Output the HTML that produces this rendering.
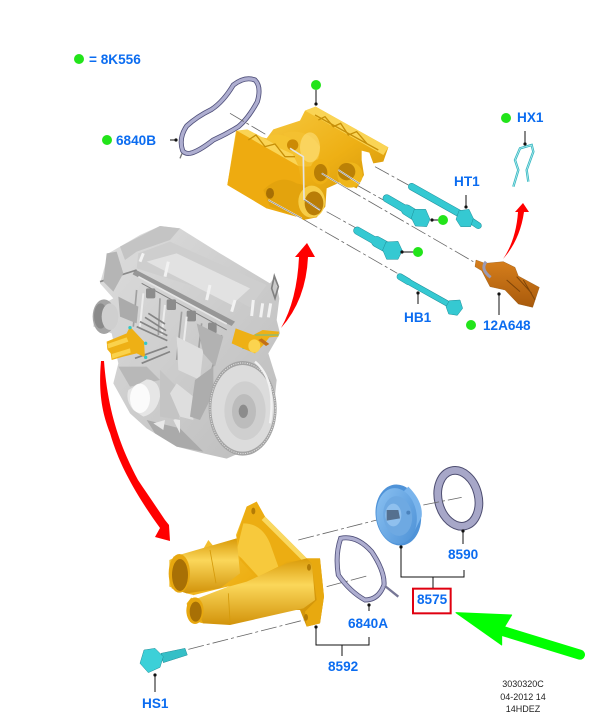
<!DOCTYPE html>
<html><head><meta charset="utf-8"><style>
html,body{margin:0;padding:0;background:#fff}
svg{display:block}
.t{font:bold 13.6px "Liberation Sans",sans-serif;fill:#0b6cf0}
.f{font:9px "Liberation Sans",sans-serif;fill:#222;text-anchor:middle}
.l{stroke:#111;stroke-width:1;fill:none}
.d{stroke:#666;stroke-width:2.4;fill:none;stroke-dasharray:48 9 9 9}
</style></head><body>
<svg width="616" height="713" viewBox="0 0 616 713" xmlns="http://www.w3.org/2000/svg">
<defs>
<linearGradient id="y" x1="0" y1="0" x2="1" y2="1"><stop offset="0" stop-color="#f8cf4c"/><stop offset=".55" stop-color="#eeb015"/><stop offset="1" stop-color="#c98c06"/></linearGradient>
<linearGradient id="yt" x1="0" y1="0" x2="0" y2="1"><stop offset="0" stop-color="#d99a08"/><stop offset=".4" stop-color="#fbd75a"/><stop offset="1" stop-color="#d2930a"/></linearGradient>
<linearGradient id="g" x1="0" y1="0" x2="1" y2="1"><stop offset="0" stop-color="#dedede"/><stop offset="1" stop-color="#bcbcbc"/></linearGradient>
<linearGradient id="o" x1="0" y1="0" x2="0" y2="1"><stop offset="0" stop-color="#d77f1c"/><stop offset="1" stop-color="#a85a0c"/></linearGradient>
<linearGradient id="b" x1="0" y1="0" x2="1" y2="1"><stop offset="0" stop-color="#8cc2f2"/><stop offset="1" stop-color="#4b90d6"/></linearGradient>
</defs>

<!-- ENGINE (zoom2 coordinates) -->
<g transform="translate(80,220) scale(.33333)">
<path d="M120,80 L180,45 L240,18 L300,25 L420,100 L570,190 L585,170 L598,235 L590,300 L600,340 L565,400 L590,480 L575,620 L500,690 L440,716 L370,700 L290,680 L200,625 L150,580 L100,490 L115,430 L95,340 L40,320 L45,265 L100,235 L60,190 L85,100 Z" fill="url(#g)"/>
<path d="M170,145 L175,100 L270,65 L560,195 L510,262 L470,240 Z" fill="#cecece"/>
<path d="M200,125 L290,100 L510,205 L455,255 Z" fill="#e2e2e2"/>
<path d="M120,80 L240,18 L300,25 L270,60 L170,95 L135,120 Z" fill="#c4c4c4"/>
<path d="M165,148 L465,305 L455,318 L158,163 Z" fill="#979797"/>
<path d="M175,170 L440,312" stroke="#e6e6e6" stroke-width="5" fill="none"/>
<path d="M185,190 L440,330" stroke="#808080" stroke-width="3" fill="none"/>
<path d="M60,185 L170,150" stroke="#8a8a8a" stroke-width="5"/>
<path d="M80,100 L110,95 L130,160 L100,215 L70,185 Z" fill="#b5b5b5"/>
<g fill="#8c8c8c"><rect x="198" y="205" width="28" height="30" rx="5"/><rect x="260" y="238" width="28" height="32" rx="5"/><rect x="320" y="272" width="28" height="32" rx="5"/><rect x="384" y="308" width="26" height="32" rx="5"/></g>
<g stroke="#f2f2f2" stroke-width="9" fill="none"><path d="M190,100 L180,125"/><path d="M265,125 L255,170"/><path d="M390,195 L380,240"/><path d="M465,240 L455,275"/><path d="M520,240 L515,288"/><path d="M548,250 L542,292"/><path d="M572,250 L565,292"/></g>
<path d="M575,205 L583,168 L595,200 L585,235 Z" fill="none" stroke="#808080" stroke-width="5"/>
<path d="M170,210 L160,320 M240,235 L235,345 M305,275 L290,420 M365,310 L350,440 M425,345 L395,450" stroke="#a0a0a0" stroke-width="5" fill="none"/>
<path d="M190,220 L180,320 M255,255 L245,345 M320,290 L310,380" stroke="#ececec" stroke-width="6" fill="none"/>
<path d="M115,230 L175,260 L170,310 L120,290 Z" fill="#ababab"/>
<ellipse cx="72" cy="290" rx="34" ry="52" fill="#a4a4a4"/><ellipse cx="62" cy="288" rx="20" ry="38" fill="#8a8a8a"/><ellipse cx="90" cy="290" rx="25" ry="40" fill="#cfcfcf"/>
<g stroke="#858585" stroke-width="5"><path d="M170,320 L262,362"/><path d="M180,305 L262,347"/><path d="M195,292 L258,332"/><path d="M205,280 L255,312"/><path d="M165,415 L262,380"/><path d="M185,430 L270,395"/></g>
<path d="M290,350 L370,390 L360,480 L295,450 Z" fill="#dedede"/>
<path d="M350,310 L430,350 L405,440 L370,400 Z" fill="#b2b2b2"/>
<path d="M115,440 L200,440 L240,480 L150,500 Z" fill="#b8b8b8"/>
<path d="M145,510 L200,478 Q240,480 240,530 Q230,580 190,590 L160,570 Q135,540 145,510 Z" fill="#e6e6e6"/>
<ellipse cx="180" cy="535" rx="30" ry="44" fill="#fbfbfb"/>
<path d="M200,600 L300,625 L370,695 L290,680 L225,640 Z" fill="#aaaaaa"/>
<path d="M220,610 L255,600 L250,630 Z M280,600 L300,590 L300,640 Z" fill="#e8e8e8"/>
<path d="M240,450 L290,500 L300,600 L240,590 Z" fill="#c4c4c4"/>
<path d="M270,520 L290,490 L340,530 L340,600 L300,590 Z" fill="#dedede"/>
<path d="M345,480 L400,440 L400,520 L360,600 L330,590 Z" fill="#adadad"/>
<ellipse cx="488" cy="565" rx="102" ry="142" fill="#a4a4a4"/>
<ellipse cx="488" cy="565" rx="94" ry="130" fill="#dcdcdc"/>
<ellipse cx="488" cy="565" rx="98" ry="136" fill="none" stroke="#e8e8e8" stroke-width="3" stroke-dasharray="3 4"/>
<ellipse cx="495" cy="572" rx="62" ry="88" fill="#cfcfcf"/>
<ellipse cx="492" cy="574" rx="36" ry="52" fill="#bcbcbc"/>
<ellipse cx="490" cy="574" rx="14" ry="20" fill="#8c8c8c"/>
<path d="M525,425 Q590,480 570,610" stroke="#f2f2f2" stroke-width="7" fill="none"/>
<!-- mini thermostat housings -->
<path d="M80,365 L140,340 L150,320 L192,365 L195,412 L170,400 L130,410 L95,420 L92,400 L82,388 Z" fill="#eeb015"/>
<path d="M82,372 L140,352 L145,365 L85,385 Z" fill="#fad24c"/>
<path d="M95,402 L150,385 L152,398 L97,416 Z" fill="#fad24c"/>
<g fill="#35c7c7"><circle cx="150" cy="323" r="5"/><circle cx="197" cy="370" r="5"/><circle cx="197" cy="412" r="5"/><circle cx="491" cy="382" r="5"/></g>
<path d="M467,325 L520,345 L548,330 L597,335 L595,350 L568,352 L550,375 L525,400 L495,388 L455,370 Z" fill="#eeb015"/>
<ellipse cx="523" cy="378" rx="18" ry="20" fill="#fbd44f"/>
<path d="M545,355 L568,372 L558,378 L535,360 Z" fill="#c26f16"/>
<path d="M525,345 L597,345" stroke="#35c7c7" stroke-width="2"/>
</g>

<!-- RED ARROWS -->
<path d="M281,328 Q297,300 299,257 L295,257 L307,243 L315,257 L308,257 Q306,300 281,328 Z" fill="#f00"/>
<path d="M503,259 Q516,240 518,212 L515,212 L523,203 L529,212 L524,212 Q520,240 503,259 Z" fill="#f00"/>
<path d="M101,361 C98,395 103,415 110,433 C115,450 125,480 160,528 L155,537 L170,541 L169,525 L165,520 C155,505 146,492 138,480 C122,450 108,415 104,361 Z" fill="#f00"/>

<!-- UPPER GROUP (zoom1 coordinates) -->
<g transform="translate(170,60) scale(.33333)">
<path d="M38,272 Q25,235 50,198 Q80,170 125,148 Q160,125 190,75 Q225,48 255,60 Q275,80 262,125 Q235,175 205,200 Q170,222 130,240 Q85,275 60,280 Q45,282 38,272 Z" fill="none" stroke="#50507a" stroke-width="15"/>
<path d="M38,272 Q25,235 50,198 Q80,170 125,148 Q160,125 190,75 Q225,48 255,60 Q275,80 262,125 Q235,175 205,200 Q170,222 130,240 Q85,275 60,280 Q45,282 38,272 Z" fill="none" stroke="#aeaed0" stroke-width="10"/>
<path d="M36,280 L30,295" stroke="#777" stroke-width="4"/>
<path class="d" d="M180,160 L290,225"/>
<path class="d" d="M615,320 L715,375"/>
<path class="d" d="M560,375 L640,420"/>
<path class="d" d="M470,455 L560,505"/>
<path class="d" d="M530,385 L910,605"/>
<path class="d" d="M400,478 L682,640"/>
<!-- housing -->
<path d="M405,152 L437,140 L655,262 L640,305 L610,310 L598,278 L575,272 L575,300 L582,345 L560,385 L515,365 L470,385 L466,440 L440,472 L400,480 L360,450 L290,445 L172,375 L198,212 L290,235 L310,208 L390,182 Z" fill="url(#y)"/>
<path d="M200,212 L232,208 L400,298 L385,318 Z" fill="#fad455"/>
<path d="M405,152 L437,140 L655,262 L640,285 Z" fill="#fad455"/>
<path d="M200,212 L385,318 L400,395 L378,470 L290,445 L172,375 Z" fill="#eeab10"/>
<path d="M340,220 Q410,200 450,260 Q450,320 410,320 L385,318 Z" fill="#f4c030"/>
<ellipse cx="420" cy="262" rx="30" ry="45" fill="#ffe78c" opacity=".5"/>
<path d="M290,235 Q320,210 370,240 L385,290 L330,265 Z" fill="#f5c330"/>
<ellipse cx="368" cy="255" rx="17" ry="17" fill="#cc8a05"/>
<ellipse cx="450" cy="335" rx="30" ry="38" fill="#eeb015"/>
<ellipse cx="452" cy="338" rx="20" ry="26" fill="#b87e05"/>
<ellipse cx="540" cy="345" rx="38" ry="38" fill="#efb61b"/>
<ellipse cx="530" cy="335" rx="26" ry="26" fill="#bb8106"/>
<path d="M280,390 Q330,340 380,370 L445,385 L430,470 L380,470 L300,440 Z" fill="#e3a30d"/>
<ellipse cx="425" cy="425" rx="40" ry="48" fill="#f7cd47"/>
<ellipse cx="432" cy="430" rx="28" ry="36" fill="#b97d06"/>
<ellipse cx="300" cy="400" rx="12" ry="16" fill="#a66f04"/>
<g stroke="#c78f07" stroke-width="4" fill="none"><path d="M435,165 L625,270"/><path d="M445,180 L465,170 L490,200 L512,190 L535,225 L560,215 L590,250"/><path d="M235,240 L258,225 L285,260 L315,252 L345,290 L375,290"/></g>
<path d="M360,265 L400,290 L402,418 L450,450" stroke="#e4e4e4" stroke-width="5" fill="none"/>
<path d="M455,340 L530,385 M505,330 L570,372 M295,420 L395,475" stroke="#e8e8e8" stroke-width="5" fill="none"/>
<path d="M455,340 L530,385 M505,330 L570,372 M295,420 L395,475 M402,420 L450,448" stroke="#555" stroke-width="1.4" fill="none"/>
<!-- bolts -->
<g fill="none" stroke-linecap="round">
<g stroke="#1e8d98"><path d="M725,380 L885,470" stroke-width="22"/><path d="M885,470 L925,497" stroke-width="20"/><path d="M650,415 L710,450" stroke-width="24"/><path d="M710,450 L750,475" stroke-width="33"/><path d="M562,512 L620,545" stroke-width="24"/><path d="M620,545 L665,570" stroke-width="33"/><path d="M690,650 L715,665" stroke-width="20"/><path d="M715,665 L840,735" stroke-width="18"/></g>
<g stroke="#35c9d2"><path d="M725,380 L885,470" stroke-width="19"/><path d="M885,470 L925,497" stroke-width="17"/><path d="M650,415 L710,450" stroke-width="21"/><path d="M710,450 L750,475" stroke-width="30"/><path d="M562,512 L620,545" stroke-width="21"/><path d="M620,545 L665,570" stroke-width="30"/><path d="M690,650 L715,665" stroke-width="17"/><path d="M715,665 L840,735" stroke-width="15"/></g>
</g>
<g fill="#35c9d2" stroke="#1e8d98" stroke-width="1.5">
<path d="M867,452 L897,448 L910,475 L902,500 L872,500 L858,478 Z"/>
<path d="M733,448 L767,448 L780,478 L770,500 L736,498 L724,474 Z"/>
<path d="M648,546 L684,544 L697,572 L684,598 L650,598 L638,570 Z"/>
<path d="M838,722 L870,720 L878,745 L862,766 L836,762 L828,740 Z"/>
</g>
<!-- sensor -->
<path d="M918,600 L945,610 L1000,605 L1035,622 L1045,648 L1108,682 L1088,742 L1045,732 L1005,690 L960,680 L935,632 L915,620 Z" fill="url(#o)" stroke="#8a4d0a" stroke-width="1"/>
<path d="M948,605 Q930,628 962,652" stroke="#9a9ab5" stroke-width="9" fill="none"/>
<path d="M1010,660 L1050,695 M1040,650 L1085,700 M1060,660 L1095,720" stroke="#7f4508" stroke-width="3"/>
<!-- clip -->
<path d="M1030,380 L1045,330 L1035,300 L1050,265 L1085,255 L1090,275 L1070,330 L1075,365" fill="none" stroke="#35b8c2" stroke-width="7"/>
<path d="M1030,380 L1045,330 L1035,300 L1050,265 L1085,255 L1090,275 L1070,330 L1075,365" fill="none" stroke="#c6f0f2" stroke-width="2"/>
</g>

<!-- BOTTOM GROUP (zoom3 coordinates) -->
<g transform="translate(130,460) scale(.33333)">
<path class="d" d="M505,240 L760,175"/>
<path class="d" d="M590,380 L710,348"/>
<path class="d" d="M175,568 L530,478"/>
<!-- housing -->
<path d="M318,225 L350,140 L380,125 L405,170 L530,295 L570,295 L582,410 L570,490 L530,500 L510,450 L420,450 L300,490 L220,490 L178,480 L170,430 L190,405 L170,400 L118,380 L118,300 L150,285 L218,270 L235,240 L250,258 L320,235 Z" fill="url(#y)"/>
<path d="M320,230 L350,140 L380,125 L405,170 L535,300 L470,305 L430,330 L380,355 L330,300 Z" fill="#ecad12"/>
<path d="M405,170 L530,295 L520,305 L395,180 Z" fill="#f9d860"/>
<path d="M340,190 Q395,190 420,250 L445,320 L385,350 L335,295 L318,280 Z" fill="#f7c93c"/>
<path d="M130,290 L320,235 L330,340 L270,385 L170,400 L125,385 Z" fill="url(#yt)"/>
<path d="M185,430 L190,410 L350,365 L470,310 L530,295 L545,300 L555,420 L520,445 L300,495 L220,490 Z" fill="url(#yt)"/>
<path d="M180,408 L300,378 L190,420 Z" fill="#fff"/>
<path d="M530,295 L570,295 L582,410 L570,490 L530,500 L525,455 L560,420 L545,310 Z" fill="#e8a90f"/>
<ellipse cx="148" cy="340" rx="32" ry="58" fill="#e7a70f"/>
<ellipse cx="150" cy="345" rx="24" ry="48" fill="#a87005"/>
<ellipse cx="195" cy="452" rx="26" ry="40" fill="#e7a70f"/>
<ellipse cx="197" cy="455" rx="18" ry="30" fill="#a87005"/>
<ellipse cx="370" cy="153" rx="6" ry="10" fill="#b37b05"/>
<ellipse cx="537" cy="322" rx="6" ry="10" fill="#b37b05"/>
<ellipse cx="528" cy="472" rx="6" ry="10" fill="#b37b05"/>
<path d="M240,270 L258,370 M295,400 L300,485" stroke="#d59a0a" stroke-width="2.5" fill="none"/>
<!-- gasket -->
<path d="M632,235 Q615,285 625,345 Q660,395 705,420 Q745,420 762,375 Q765,335 725,275 Q680,225 632,235 Z" fill="none" stroke="#50507a" stroke-width="15"/>
<path d="M632,235 Q615,285 625,345 Q660,395 705,420 Q745,420 762,375 Q765,335 725,275 Q680,225 632,235 Z" fill="none" stroke="#aeaed0" stroke-width="10"/>
<path d="M765,378 L805,410" stroke="#777796" stroke-width="7"/>
<!-- thermostat -->
<ellipse cx="805" cy="165" rx="68" ry="92" fill="#4f93d8" transform="rotate(-8 805 165)"/>
<path d="M835,80 Q880,125 875,170 L850,220 L815,100 Z" fill="#79b4ec"/>
<ellipse cx="800" cy="168" rx="60" ry="84" fill="url(#b)" transform="rotate(-8 800 168)"/>
<ellipse cx="803" cy="168" rx="43" ry="60" fill="#6ea9e2" transform="rotate(-8 803 168)"/>
<ellipse cx="790" cy="165" rx="24" ry="34" fill="#8fc0ee"/>
<path d="M770,150 L805,150 L810,175 L770,182 Z" fill="#55708f"/>
<circle cx="835" cy="158" r="6" fill="#4b83bd"/>
<!-- ring -->
<ellipse cx="985" cy="115" rx="60" ry="85" fill="none" stroke="#4d4d70" stroke-width="26" transform="rotate(-14 985 115)"/>
<ellipse cx="985" cy="115" rx="60" ry="85" fill="none" stroke="#a7a7c8" stroke-width="20" transform="rotate(-14 985 115)"/>
<path class="d" d="M880,135 L995,112"/>
<!-- HS1 bolt -->
<path d="M93,580 L165,565 L172,585 L100,608 Z" fill="#35bfc7" stroke="#1e8d98" stroke-width="1.5"/>
<path d="M42,570 L75,565 L100,590 L90,622 L55,638 L30,610 Z" fill="#3cd0d8" stroke="#1e8d98" stroke-width="1.5"/>
<!-- green arrow -->
<path d="M978,458 L1145,465 L1125,498 L1115,525 L1115,555 Z" fill="#0f0" stroke="#0f0" stroke-width="3" stroke-linejoin="round"/>
<path d="M1115,512 L1350,584" stroke="#0f0" stroke-width="30" stroke-linecap="round"/>
<rect x="849" y="386" width="113" height="74" fill="#fff" stroke="#e00010" stroke-width="6"/>
</g>

<!-- LEADERS -->
<g class="l">
<path d="M177,140 L170,140"/><path d="M316,90 L316,105"/>
<path d="M466,195 L466,208"/><path d="M432,220 L438,220"/><path d="M402,252 L413,252"/>
<path d="M418,293 L418,304"/><path d="M499,295 L499,315"/><path d="M525,131 L525,144"/>
<path d="M463,530 L463,544"/>
<path d="M401,547 L401,577 L464,577 L464,570"/><path d="M433,577 L433,588"/>
<path d="M316,627 L316,645 L369,645 L369,637"/><path d="M342,645 L342,656"/>
<path d="M369,604 L369,611"/><path d="M155,676 L155,692"/>
</g>
<g fill="#111">
<circle cx="176" cy="140" r="1.6"/><circle cx="316" cy="104" r="1.6"/><circle cx="466" cy="207" r="1.6"/><circle cx="432" cy="220" r="1.6"/><circle cx="402" cy="252" r="1.6"/><circle cx="418" cy="293" r="1.6"/><circle cx="499" cy="294" r="1.6"/><circle cx="525" cy="144" r="1.6"/><circle cx="463" cy="531" r="1.6"/><circle cx="401" cy="547" r="1.6"/><circle cx="316" cy="627" r="1.6"/><circle cx="369" cy="605" r="1.6"/><circle cx="155" cy="675" r="1.6"/>
</g>

<!-- GREEN DOTS -->
<g fill="#22e41a">
<circle cx="79" cy="59" r="5"/><circle cx="107" cy="140" r="5"/><circle cx="316" cy="85" r="5"/><circle cx="506" cy="118" r="5"/><circle cx="443" cy="220" r="5"/><circle cx="418" cy="252" r="5"/><circle cx="471" cy="325" r="5"/>
</g>

<!-- TEXT -->
<text class="t" x="89" y="64">= 8K556</text>
<text class="t" x="116" y="145">6840B</text>
<text class="t" x="517" y="122">HX1</text>
<text class="t" x="454" y="186">HT1</text>
<text class="t" x="404" y="322">HB1</text>
<text class="t" x="483" y="330">12A648</text>
<text class="t" x="448" y="559">8590</text>
<text class="t" x="417" y="604">8575</text>
<text class="t" x="348" y="628">6840A</text>
<text class="t" x="328" y="671">8592</text>
<text class="t" x="142" y="708">HS1</text>
<text class="f" x="523" y="687">3030320C</text>
<text class="f" x="523" y="700">04-2012 14</text>
<text class="f" x="523" y="712">14HDEZ</text>
</svg>
</body></html>
